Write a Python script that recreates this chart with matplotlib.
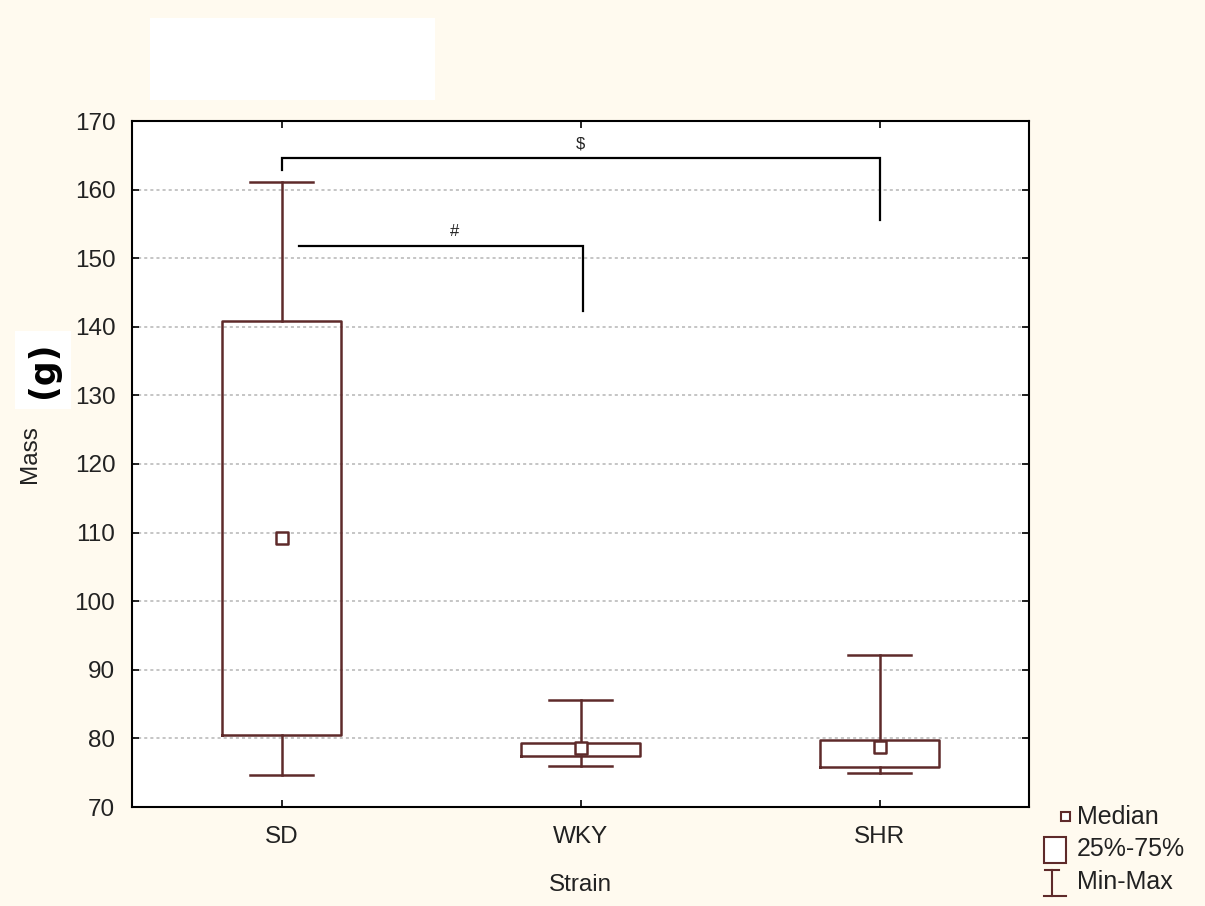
import matplotlib
matplotlib.use("Agg")
import matplotlib.pyplot as plt
from matplotlib.patches import Rectangle
from matplotlib.lines import Line2D

plt.rcParams['font.family'] = ['Liberation Sans', 'DejaVu Sans']

# Box statistics per strain (mass in g)
strains = ["SD", "WKY", "SHR"]
minimum = [74.6, 76.0, 74.9]
q25 = [80.5, 77.4, 75.8]
median = [109.2, 78.6, 78.7]
q75 = [140.8, 79.4, 79.7]
maximum = [161.1, 85.6, 92.1]

yticks = [70, 80, 90, 100, 110, 120, 130, 140, 150, 160, 170]

# Significance brackets: (x_start, x_end, y_bar, y_left_end, y_right_end, label, label_x)
brackets = [
    (0.0, 2.0, 164.6, 162.9, 155.6, "$", 1.0),
    (0.06, 1.01, 151.8, 151.8, 142.3, "#", 0.58),
]

W, H = 1205, 906
BG = "#FFFAEF"
BOX = "#5E2A2A"
TXT = "#222222"
FS = 17.5

fig = plt.figure(figsize=(W / 100, H / 100), dpi=100, facecolor=BG)


def fx(px):
    return px / W


def fy(py):
    return 1 - py / H


# White panel in the header area
fig.add_artist(Rectangle((fx(150), fy(100)), fx(435) - fx(150), fy(18) - fy(100),
                         transform=fig.transFigure, facecolor="white",
                         edgecolor="none", zorder=0))

ax = fig.add_axes([fx(132), fy(807), fx(1029) - fx(132), fy(121) - fy(807)])
ax.set_facecolor("white")

positions = list(range(len(strains)))
stats = [dict(whislo=lo, q1=a, med=m, q3=b, whishi=hi, label=s)
         for s, lo, a, m, b, hi in zip(strains, minimum, q25, median, q75, maximum)]

line_kw = dict(color=BOX, linewidth=1.8)
ax.bxp(stats, positions=positions, widths=0.4, capwidths=0.21,
       showfliers=False, patch_artist=False,
       boxprops=line_kw, whiskerprops=line_kw, capprops=line_kw,
       medianprops=dict(linewidth=0, alpha=0))
ax.scatter(positions, median, marker="s", s=70, facecolor="white",
           edgecolor=BOX, linewidths=1.8, zorder=5)

ax.set_xlim(-0.5, 2.5)
ax.set_ylim(70, 170)
ax.set_yticks(yticks)
ax.set_xticks(positions)
ax.set_xticklabels(strains)
ax.tick_params(direction="in", top=True, right=True, length=5, width=1.2,
               labelsize=FS, colors="black", labelcolor=TXT)
ax.tick_params(axis="y", pad=12)
ax.tick_params(axis="x", pad=14)
ax.yaxis.grid(True, linestyle=(0, (2, 2)), color="#b5b5b5", linewidth=1.1)
ax.set_axisbelow(True)
for sp in ax.spines.values():
    sp.set_linewidth(1.5)
    sp.set_color("black")

ax.set_xlabel("Strain", fontsize=FS, color=TXT)
ax.xaxis.set_label_coords(0.5, -0.098)
ax.set_ylabel("Mass", fontsize=FS, color=TXT)
ax.yaxis.set_label_coords(-0.102, 0.515)

# "(g)" unit tag next to the axis label
fig.text(fx(43), fy(370), "(g)", rotation=90, fontsize=25, fontweight="bold",
         family="DejaVu Sans", ha="center", va="center",
         bbox=dict(facecolor="white", edgecolor="none", pad=8))

# Significance brackets
for x0, x1, ybar, yl, yr, lab, lx in brackets:
    ax.plot([x0, x0, x1, x1], [yl, ybar, ybar, yr], color="black",
            linewidth=1.6, solid_joinstyle="miter", clip_on=False)
    ax.text(lx, ybar + 1.0, lab, ha="center", va="bottom", fontsize=12,
            color=TXT)

# Legend key drawn in figure space
fig.add_artist(Rectangle((fx(1061), fy(821)), fx(9), fy(812) - fy(821),
                         transform=fig.transFigure, facecolor="white",
                         edgecolor=BOX, linewidth=1.5))
fig.add_artist(Rectangle((fx(1044), fy(863)), fx(1066) - fx(1044), fy(837) - fy(863),
                         transform=fig.transFigure, facecolor="white",
                         edgecolor=BOX, linewidth=1.5))
fig.add_artist(Line2D([fx(1052), fx(1052)], [fy(870), fy(896)],
                      transform=fig.transFigure, color=BOX, linewidth=1.5))
fig.add_artist(Line2D([fx(1045), fx(1059)], [fy(870), fy(870)],
                      transform=fig.transFigure, color=BOX, linewidth=1.5))
fig.add_artist(Line2D([fx(1044), fx(1066)], [fy(896), fy(896)],
                      transform=fig.transFigure, color=BOX, linewidth=1.5))
for ty, txt in [(817, "Median"), (849, "25%-75%"), (882, "Min-Max")]:
    fig.text(fx(1077), fy(ty), txt, fontsize=18, ha="left", va="center",
             color=TXT)

fig.savefig("out.png", dpi=100, facecolor=BG)
